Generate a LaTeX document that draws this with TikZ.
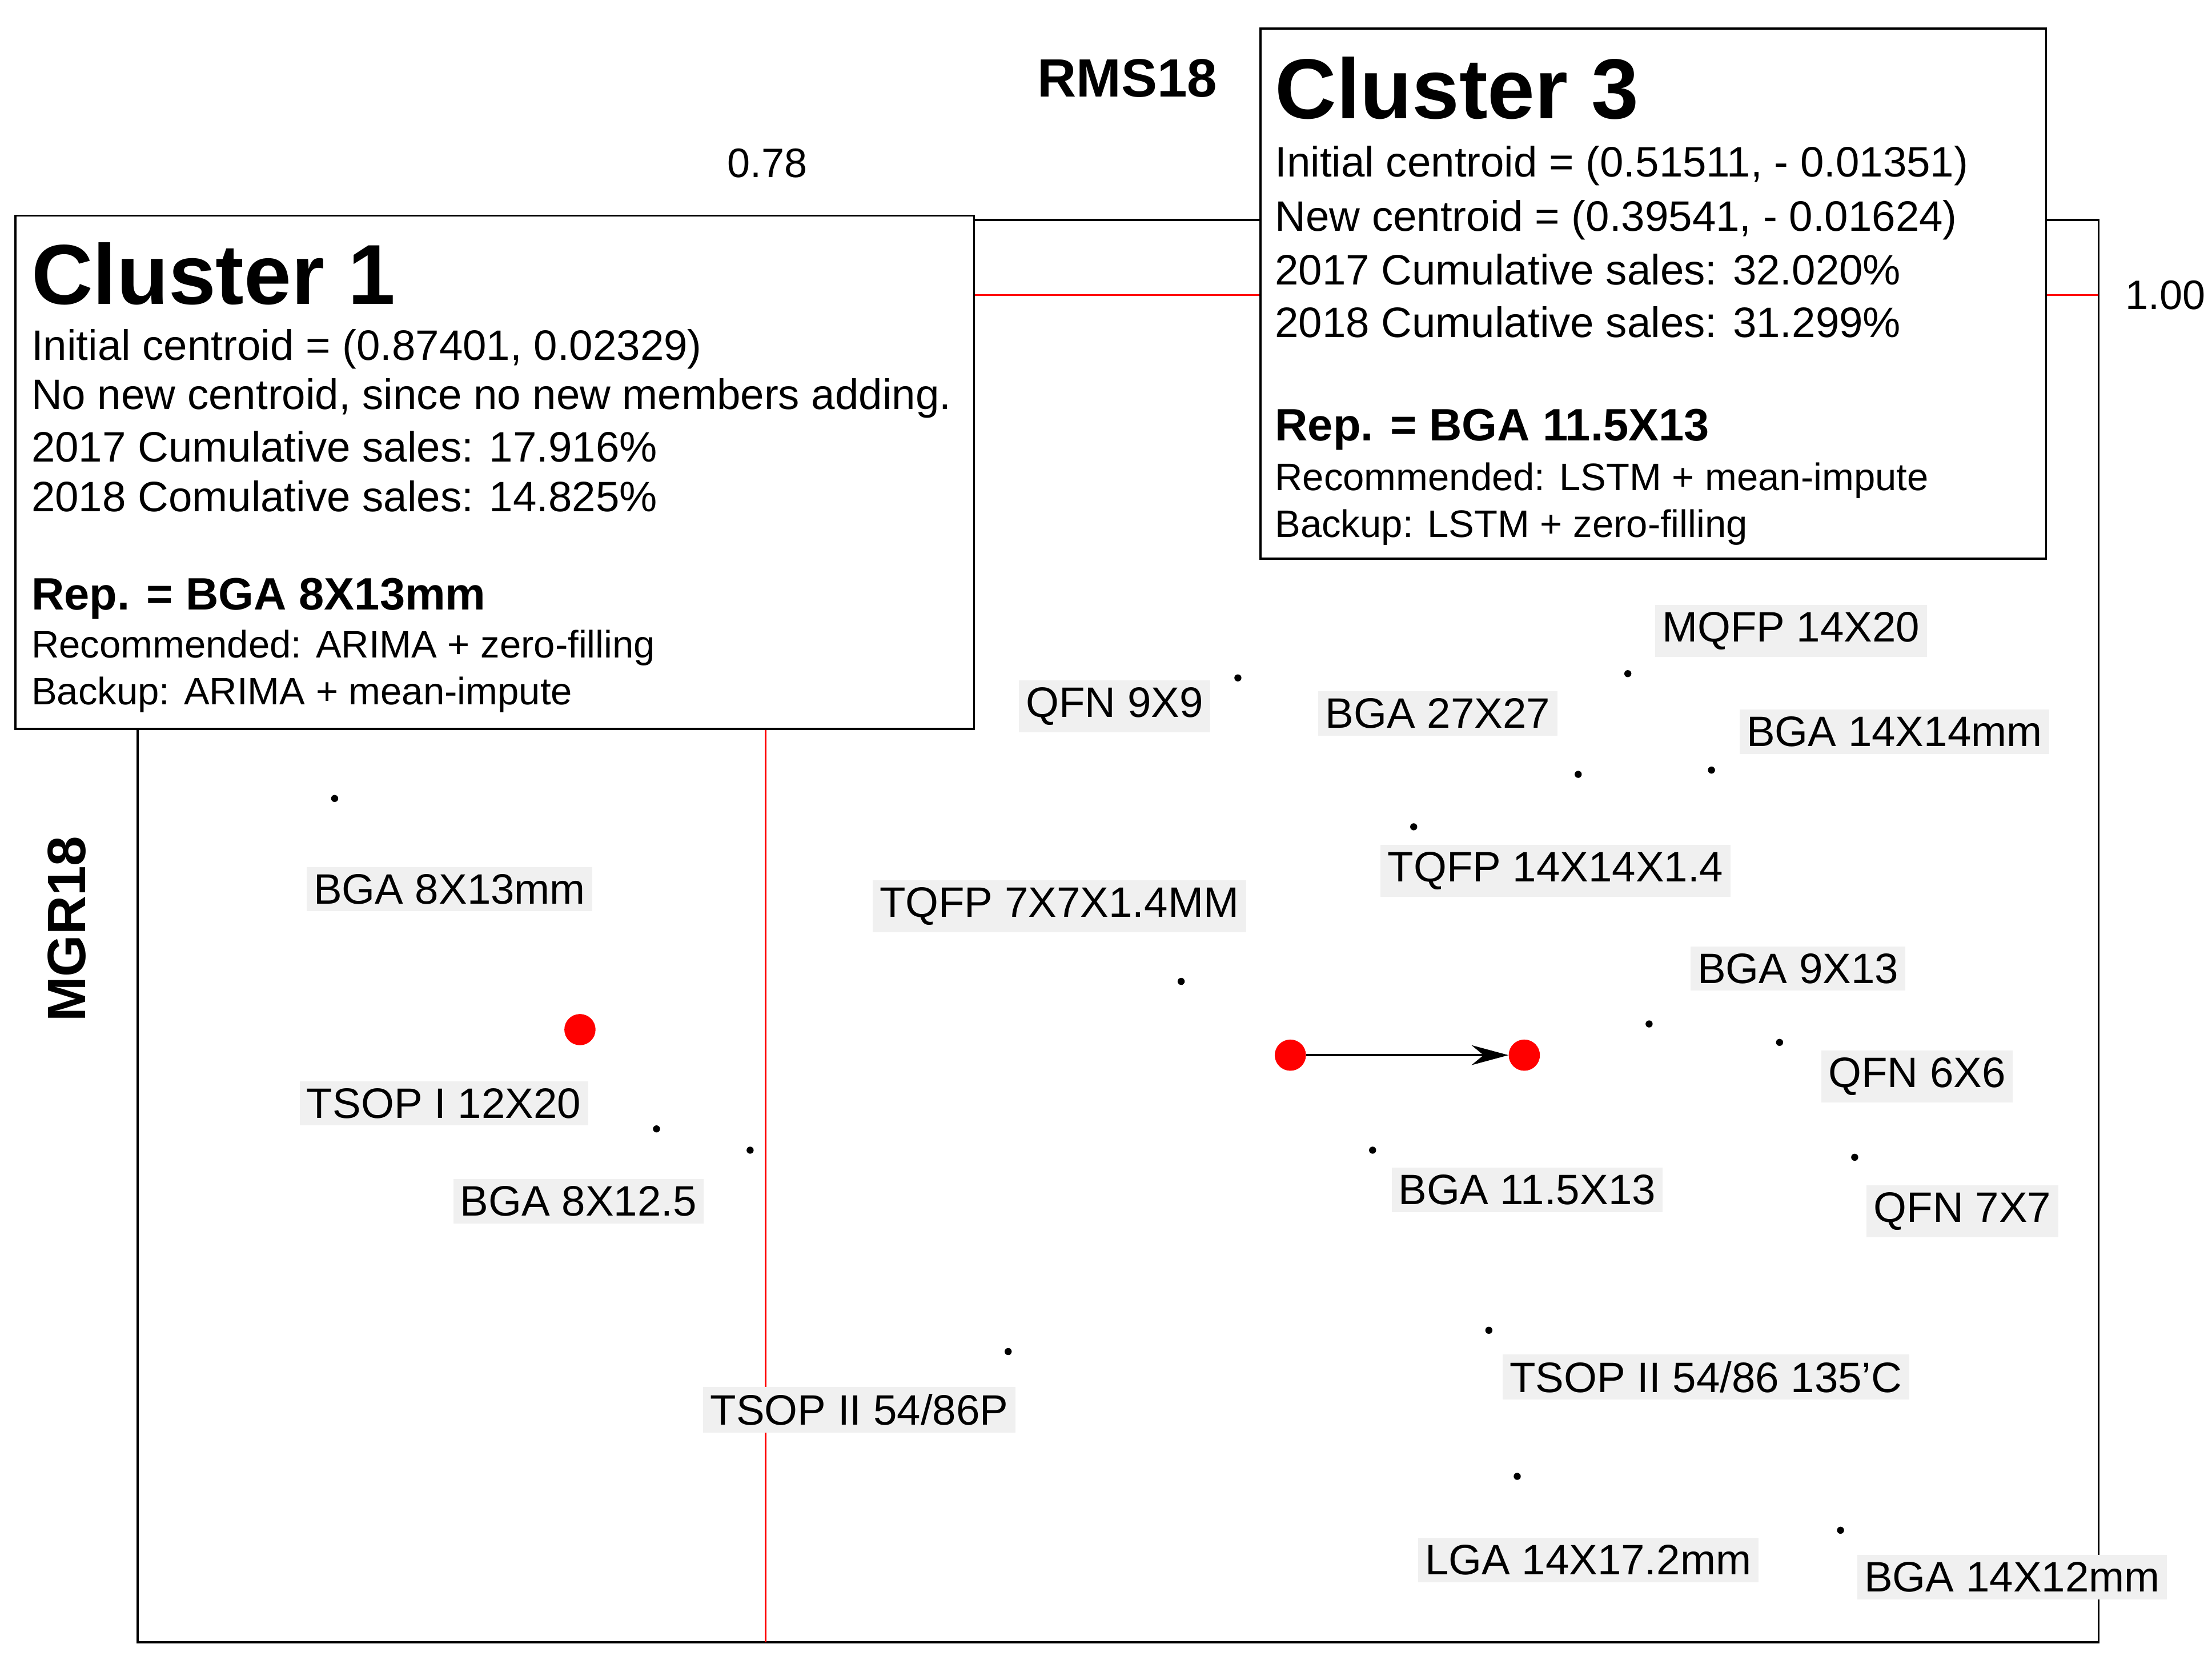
\documentclass[tikz,border=0pt]{standalone}
\usepackage{fontspec}
\setmainfont{Liberation Sans}
\usetikzlibrary{arrows.meta}
\begin{document}
\begin{tikzpicture}[x=1pt,y=-1pt,
  dot/.style={circle,fill=black,inner sep=0pt,minimum size=5pt},
  rdot/.style={circle,fill=red,inner sep=0pt,minimum size=22pt},
  lab/.style={fill=black!6,inner sep=5pt,font=\fontsize{30}{32}\selectfont},
  ln/.style={anchor=west,inner sep=0pt,font=\fontsize{30}{34}\selectfont},
  sm/.style={anchor=west,inner sep=0pt,font=\fontsize{27}{30}\selectfont},
  rep/.style={anchor=west,inner sep=0pt,font=\fontsize{32}{34}\selectfont\bfseries},
  ttl/.style={anchor=west,inner sep=0pt,font=\fontsize{60}{62}\selectfont\bfseries},
  box/.style={draw=black,line width=1.5pt,fill=white}]
\useasboundingbox (0,0) rectangle (1560,1173);
\draw[line width=1.5pt] (97,155) rectangle (1480,1158);
\draw[red,line width=1.2pt] (540,155) -- (540,1158);
\draw[red,line width=1.2pt] (97,208) -- (1480,208);
\node[font=\fontsize{29}{30}\selectfont] (t078) at (541,115) {0.78};
\node[font=\fontsize{29}{30}\selectfont] (t100) at (1527,208) {1.00};
\node[font=\fontsize{38}{40}\selectfont\bfseries] (xl) at (795,55) {RMS18};
\node[font=\fontsize{38}{40}\selectfont\bfseries,rotate=90] (yl) at (47,655) {MGR18};
% Cluster 1
\draw[box] (11,152) rectangle (687,514);
\node[ttl] (c1t) at (22,193) {Cluster 1};
\node[ln] (c1a) at (22,246) {Initial centroid = (0.87401, 0.02329)};
\node[ln] (c1b) at (22,281) {No new centroid, since no new members adding.};
\node[ln] (c1c) at (22,315) {2017 Cumulative sales: 17.916\%};
\node[ln] (c1d) at (22,350) {2018 Comulative sales: 14.825\%};
\node[rep] (c1e) at (22,422) {Rep. = BGA 8X13mm};
\node[sm] (c1f) at (22,457) {Recommended: ARIMA + zero-filling};
\node[sm] (c1g) at (22,490) {Backup: ARIMA + mean-impute};
% Cluster 3
\draw[box] (889,20) rectangle (1443,394);
\node[ttl] (c3t) at (899,62) {Cluster 3};
\node[ln] (c3a) at (899,117) {Initial centroid = (0.51511, - 0.01351)};
\node[ln] (c3b) at (899,155) {New centroid = (0.39541, - 0.01624)};
\node[ln] (c3c) at (899,190) {2017 Cumulative sales: 32.020\%};
\node[ln] (c3d) at (899,227) {2018 Cumulative sales: 31.299\%};
\node[rep] (c3e) at (899,303) {Rep. = BGA 11.5X13};
\node[sm] (c3f) at (899,339) {Recommended: LSTM + mean-impute};
\node[sm] (c3g) at (899,372) {Backup: LSTM + zero-filling};
% points
\foreach \n/\x/\y in {p1/873/478,p2/1148/475,p3/1113/546,p4/1207/543,p5/997/583,p6/236/563,p7/833/692,p8/1163/722,p9/1255/735,p10/463/796,p11/529/811,p12/968/811,p13/1308/816,p14/1050/938,p15/711/953,p16/1070/1041,p17/1298/1079}
  \node[dot] (\n) at (\x,\y) {};
% labels
\node[lab] (l1) at (786,498) {QFN 9X9};
\node[lab] (l2) at (1014,503) {BGA 27X27};
\node[lab] (l3) at (1263,445) {MQFP 14X20};
\node[lab] (l4) at (1336,516) {BGA 14X14mm};
\node[lab] (l5) at (1097,614) {TQFP 14X14X1.4};
\node[lab] (l6) at (317,627) {BGA 8X13mm};
\node[lab] (l7) at (747,639) {TQFP 7X7X1.4MM};
\node[lab] (l8) at (1268,683) {BGA 9X13};
\node[lab] (l9) at (1352,759) {QFN 6X6};
\node[lab] (l10) at (313,778) {TSOP I 12X20};
\node[lab] (l11) at (408,847) {BGA 8X12.5};
\node[lab] (l12) at (1077,839) {BGA 11.5X13};
\node[lab] (l13) at (1384,854) {QFN 7X7};
\node[lab] (l14) at (1203,971) {TSOP II 54/86 135'C};
\node[lab] (l15) at (606,994) {TSOP II 54/86P};
\node[lab] (l16) at (1120,1100) {LGA 14X17.2mm};
\node[lab] (l17) at (1419,1112) {BGA 14X12mm};
% centroids
\node[rdot] (r1) at (409,726) {};
\node[rdot] (r2) at (910,744) {};
\node[rdot] (r3) at (1075,744) {};
\draw[line width=1.5pt,-{Stealth[length=26pt,width=14pt]}] (r2) -- (r3);
\end{tikzpicture}
\end{document}
